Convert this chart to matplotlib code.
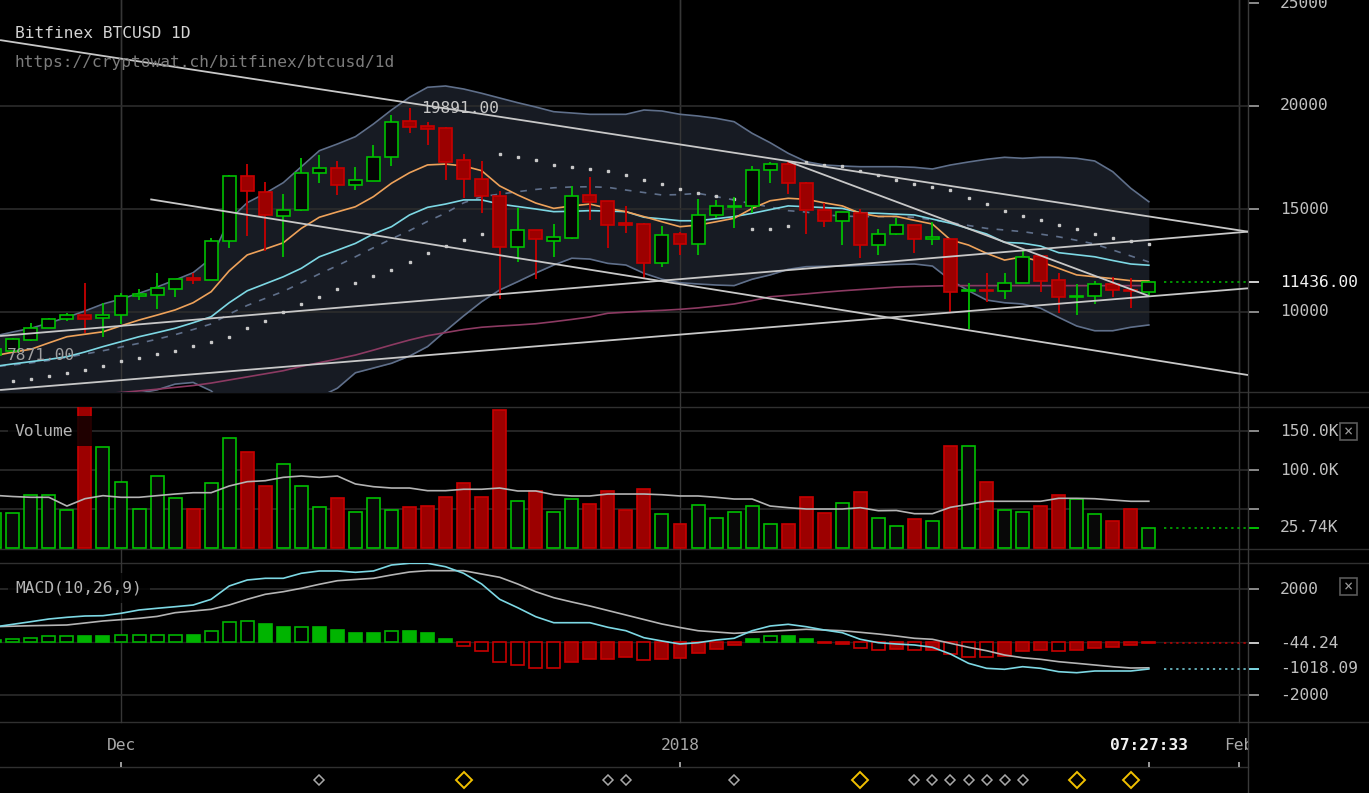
import matplotlib
matplotlib.use("Agg")
import matplotlib.pyplot as plt
import matplotlib.dates as mdates
import matplotlib.transforms as mtransforms
from matplotlib.lines import Line2D
from matplotlib.patches import Rectangle
import numpy as np
import pandas as pd

plt.rcParams["font.family"] = ["DejaVu Sans Mono", "DejaVu Sans"]

# ---- data (Bitfinex BTCUSD daily, Nov 24 2017 - Jan 27 2018) ----
dates = pd.date_range("2017-11-24", "2018-01-27", freq="D")

opens = [7900, 8110, 8640, 9220, 9675, 9840, 9690,
         9840, 10780, 10840, 11120, 11650, 11560, 13460, 16600, 15810, 14650,
         14930, 16730, 16980, 16150, 16370, 17540, 19250, 19030, 18950, 17360,
         16460, 15650, 13170, 13980, 13460, 13590, 15680, 15370, 14300, 14270, 12360,
         13770, 13300, 14710, 15100, 15150, 16890, 17180, 16250, 14930, 14420,
         14830, 13240, 13770, 14220, 13560, 13540, 11000, 11070, 11000, 11420,
         12700, 11540, 10710, 10760, 11360, 11070, 10970]
highs = [8250, 8740, 9470, 9720, 9935, 11420, 10450,
         10910, 11130, 11880, 11600, 11880, 13570, 16670, 17180, 16310, 15710,
         17460, 17620, 17320, 17030, 18110, 19580, 19891, 19220, 19000, 17670,
         17320, 15850, 15050, 13990, 14270, 16100, 16540, 15400, 15150, 14300, 14180,
         13900, 15490, 15440, 15600, 17090, 17260, 17280, 16310, 15310, 14850,
         14980, 14030, 14560, 14230, 14350, 13560, 11420, 11880, 11880, 12980,
         12720, 11880, 11340, 11490, 11680, 11650, 11490]
lows = [7871, 8050, 8600, 9200, 9580, 8980, 8790,
        9420, 10580, 10130, 10710, 11360, 11540, 13100, 13690, 12980, 12680,
        14900, 16240, 15660, 15900, 16350, 17070, 18670, 18090, 16410, 15520,
        14790, 10650, 12440, 11590, 12680, 13550, 14450, 13110, 13820, 11590, 12170,
        12770, 12770, 14560, 14070, 14830, 16250, 15730, 13790, 14140, 13250,
        12600, 12750, 13750, 12850, 13270, 9970, 9160, 10500, 10610, 11400,
        10980, 9970, 9840, 10400, 10740, 10180, 10780]
closes = [8200, 8690, 9220, 9660, 9840, 9675, 9840,
          10780, 10860, 11150, 11590, 11560, 13460, 16600, 15860, 14690, 14930,
          16730, 16990, 16150, 16390, 17540, 19220, 19000, 18900, 17300, 16460,
          15650, 13170, 13980, 13530, 13630, 15650, 15340, 14240, 14240, 12360, 13750,
          13300, 14710, 15150, 15150, 16890, 17180, 16250, 14930, 14420, 14850,
          13240, 13770, 14200, 13530, 13620, 10970, 11070, 11000, 11420, 12660,
          11510, 10710, 10780, 11360, 11070, 11000, 11436]

volume_k = [44.4, 44.4, 67.5, 67.5, 48.3, 200, 129,
            85, 50.4, 92.3, 63.7, 50.4, 82.9, 140.6, 123.5, 79.5, 108,
            79, 52, 63.7, 46, 63.7, 48.3, 52, 54.3, 65.8, 82.9,
            65.8, 177, 59.8, 73.5, 45.7, 63.2, 56, 73.5, 48.7, 75.2, 44,
            30.8, 55.5, 38.5, 45.7, 53.8, 30.8, 30.8, 65.8, 44.4, 57.7,
            71.4, 38.5, 28.6, 36.8, 34.6, 130.8, 130.8, 85, 48.3, 46,
            53.8, 67.5, 63.2, 44, 35, 50.4, 25.74]
volume_ma_k = [67.5, 66, 65, 65, 53.8, 63.2, 67.1,
               65, 65, 67.1, 69.2, 70.9, 70.9, 79.5, 85, 86.3, 90.6,
               92.3, 90.6, 92.3, 82.1, 78.6, 76.9, 76.9, 73.5, 73.5, 75.3,
               75.3, 76.9, 73.1, 73.1, 68.3, 66.7, 66.7, 69.2, 69.2, 69.2, 68.3,
               66.7, 66.7, 65, 62.8, 62.8, 53.8, 51.7, 50, 50, 50,
               51.7, 47.8, 48.1, 44, 44, 52.2, 56, 59.9, 59.9, 59.9,
               59.9, 63.7, 63.7, 63.2, 61.5, 59.9, 59.9]

bb_upper = [8835, 9029, 9209, 9466, 9743, 10049, 10388,
            10631, 10908, 11214, 11553, 11908, 12607, 14466, 15306, 15762, 16277,
            17053, 17830, 18155, 18510, 19126, 19806, 20422, 20908, 20971, 20825,
            20617, 20388, 20160, 19951, 19723, 19660, 19597, 19597, 19597, 19806, 19757,
            19597, 19515, 19403, 19238, 18675, 18219, 17704, 17296, 17136, 17087,
            17053, 17053, 17053, 17024, 16942, 17136, 17282, 17413, 17510, 17461,
            17510, 17510, 17461, 17330, 16811, 16005, 15354]
bb_middle = [7350, 7430, 7530, 7650, 7800, 7960, 8120,
             8300, 8480, 8680, 8900, 9150, 9420, 9900, 10320, 10660, 11000,
             11420, 11850, 12250, 12680, 13120, 13550, 13950, 14400, 14800, 15300,
             15600, 15720, 15840, 15950, 16030, 16070, 16080, 16050, 15920, 15800, 15680,
             15700, 15760, 15600, 15440, 15250, 15100, 14920, 14850, 14710, 14660,
             14630, 14630, 14630, 14600, 14470, 14340, 14200, 14060, 13980, 13900,
             13780, 13650, 13480, 13300, 13010, 12720, 12430]
bb_lower = [5850, 5830, 5850, 5830, 5860, 5870, 5900,
            5970, 6060, 6220, 6500, 6580, 6170, 5330, 5340, 5560, 5720,
            5790, 5870, 6300, 7050, 7280, 7510, 7860, 8320, 9080, 9810,
            10500, 11070, 11470, 11890, 12280, 12610, 12570, 12360, 12280, 11880, 11590,
            11420, 11360, 11310, 11280, 11590, 11800, 12070, 12200, 12220, 12230,
            12260, 12280, 12310, 12330, 12230, 11550, 11030, 10580, 10450, 10390,
            10180, 9740, 9320, 9090, 9090, 9260, 9370]
ema_fast = [7880, 8050, 8190, 8500, 8800, 8920, 9040,
            9330, 9610, 9850, 10100, 10450, 10985, 12000, 12770, 13060, 13360,
            14060, 14600, 14860, 15110, 15600, 16250, 16760, 17140, 17180, 17090,
            16860, 16120, 15680, 15290, 15030, 15150, 15240, 15030, 14870, 14630, 14380,
            14140, 14220, 14380, 14550, 15030, 15400, 15520, 15470, 15300, 15150,
            14790, 14640, 14640, 14450, 14270, 13500, 13250, 12850, 12520, 12680,
            12440, 12120, 11800, 11710, 11620, 11520, 11505]
ema_slow = [7360, 7480, 7590, 7700, 7830, 8060, 8320,
            8560, 8800, 9000, 9210, 9480, 9770, 10450, 11030, 11370, 11710,
            12120, 12680, 13000, 13330, 13790, 14140, 14710, 15080, 15240, 15440,
            15440, 15240, 15120, 15000, 14870, 14890, 14920, 14900, 14870, 14600, 14520,
            14430, 14430, 14530, 14630, 14790, 14970, 15150, 15110, 15070, 15030,
            14820, 14790, 14750, 14710, 14510, 14310, 14050, 13790, 13380, 13340,
            13200, 12880, 12780, 12680, 12500, 12330, 12270]
sma_long = [5600, 5680, 5760, 5840, 5920, 6000, 6040,
            6090, 6170, 6250, 6340, 6430, 6550, 6700, 6850, 7000, 7150,
            7360, 7540, 7720, 7910, 8150, 8400, 8640, 8850, 9000, 9150,
            9260, 9320, 9370, 9430, 9530, 9640, 9760, 9940, 9990, 10040, 10080,
            10130, 10200, 10290, 10390, 10550, 10740, 10810, 10880, 10960, 11030,
            11090, 11150, 11210, 11240, 11260, 11280, 11280, 11280, 11280, 11280,
            11280, 11280, 11280, 11280, 11280, 11280, 11280]
psar = [6580, 6665, 6748, 6893, 7024, 7184, 7393,
        7607, 7767, 7976, 8121, 8350, 8558, 8772, 9209, 9578, 10015,
        10374, 10743, 11102, 11393, 11748, 12039, 12413, 12850, 13219, 13495,
        13786, 17670, 17515, 17369, 17157, 17055, 16925, 16860, 16636, 16424, 16198,
        15987, 15760, 15631, 15485, 14014, 14014, 14175, 17262, 17136, 17072,
        16860, 16636, 16424, 16213, 16068, 15922, 15534, 15258, 14890, 14660,
        14451, 14223, 14014, 13786, 13576, 13431, 13286]

macd_line = [570, 668, 766, 868, 932, 981, 993,
             1083, 1208, 1272, 1332, 1396, 1611, 2113, 2340, 2404, 2404,
             2593, 2680, 2680, 2630, 2680, 2906, 2970, 2970, 2840, 2593,
             2189, 1611, 1294, 955, 728, 728, 728, 555, 426, 162, 38,
             -75, -26, 75, 140, 426, 604, 668, 577, 453, 351,
             102, -26, -75, -113, -200, -453, -804, -993, -1030, -932,
             -993, -1121, -1159, -1094, -1094, -1094, -1018]
macd_signal = [577, 596, 615, 628, 642, 717, 793,
               843, 894, 965, 1106, 1170, 1234, 1396, 1611, 1800, 1898,
               2027, 2178, 2313, 2359, 2404, 2529, 2642, 2691, 2691, 2691,
               2566, 2442, 2189, 1898, 1672, 1510, 1359, 1189, 1019, 849, 679,
               547, 426, 377, 328, 366, 404, 442, 479, 453, 426,
               366, 302, 226, 140, 102, -49, -200, -328, -491, -593,
               -653, -743, -804, -868, -932, -981, -974]
macd_hist = [60, 113, 163, 226, 226, 226, 226,
             276, 276, 276, 276, 276, 402, 755, 792, 692, 566,
             566, 566, 465, 352, 352, 402, 402, 352, 125, -140,
             -352, -753, -868, -981, -981, -753, -641, -641, -578, -692, -641,
             -590, -415, -252, -126, 113, 226, 226, 113, -38, -75,
             -239, -302, -252, -302, -290, -465, -578, -578, -528, -352,
             -302, -352, -290, -239, -189, -126, -44]
hist_hollow = [0, 1, 1, 1, 1, 0, 0,
               1, 1, 1, 1, 0, 1, 1, 1, 0, 0,
               1, 0, 0, 0, 0, 1, 0, 0, 0, 1,
               1, 1, 1, 1, 1, 0, 0, 0, 0, 1, 0,
               0, 0, 0, 0, 0, 1, 0, 0, 0, 0,
               1, 1, 0, 1, 0, 1, 1, 1, 0, 0,
               0, 1, 0, 0, 0, 0, 0]

# hand drawn trend lines: (start, price, end, price)
trend_lines = [
    ("2017-11-24 07:00", 23200, "2018-02-01 12:00", 13900),
    ("2017-12-02 15:00", 15470, "2018-02-01 12:00", 6940),
    ("2017-11-24 07:00", 8835, "2018-02-01 12:00", 13900),
    ("2017-11-24 07:00", 6214, "2018-02-01 12:00", 11150),
    ("2018-01-07 00:00", 17310, "2018-01-27 00:00", 10780),
]

events_small = ["2017-12-12", "2017-12-28", "2017-12-29", "2018-01-04", "2018-01-14",
                "2018-01-15", "2018-01-16", "2018-01-17", "2018-01-18", "2018-01-19",
                "2018-01-20"]
events_big = ["2017-12-20", "2018-01-11", "2018-01-23", "2018-01-26"]

x_ticks = ["2017-12-01", "2018-01-01", "2018-02-01"]
x_tick_labels = ["Dec", "2018", "Feb"]

high_label = 19891.00
low_label = 7871.00
last_time = "07:27:33"

# ---- styling ----
W, H = 1369, 793
BG = "#000000"
GRID = "#2c2c2c"
SEP = "#303030"
GREEN = "#00c000"
GREEN_H = "#00b400"
RED_EDGE = "#c80000"
RED_FILL = "#9c0000"
BAND = "#5f6f8a"
BAND_FILL = "#171b23"
ORANGE = "#eea25a"
CYAN = "#7dd8e4"
PURPLE = "#8c3a62"
TREND = "#c8c8c8"
LABEL = "#c0c0c0"
FS = 11.7

x = mdates.date2num(dates.to_pydatetime())
o, h, l, c = (np.array(v, dtype=float) for v in (opens, highs, lows, closes))
up = c >= o
day0 = mdates.date2num(pd.Timestamp("2017-12-01").to_pydatetime())
XLIM = (day0 - 121 / 18.032, day0 + (1248 - 121) / 18.032)

fig = plt.figure(figsize=(W / 100, H / 100), dpi=100, facecolor=BG)
px = mtransforms.Affine2D().scale(1.0 / W, -1.0 / H).translate(0, 1) + fig.transFigure


def add_panel(top, bottom, ylim):
    ax = fig.add_axes([0, 1 - bottom / H, 1248 / W, (bottom - top) / H])
    ax.set_facecolor("none")
    ax.set_axis_off()
    ax.set_xlim(*XLIM)
    ax.set_ylim(*ylim)
    return ax


ax_p = add_panel(0, 392, (10000 - 80 * 5000 / 103, 10000 + 312 * 5000 / 103))
ax_v = add_panel(407, 549, (-1.28, 180.77))
ax_m = add_panel(563, 722, (-80 * 2000 / 53, 79 * 2000 / 53))
ax_x = add_panel(722, 793, (793, 722))

# separators and frame
for yy in (392, 407, 549, 563, 722):
    fig.add_artist(Line2D([0, W], [yy, yy], transform=px, color=SEP, lw=1, zorder=-1))
fig.add_artist(Line2D([0, 1248], [767, 767], transform=px, color=SEP, lw=1, zorder=-1))
fig.add_artist(Line2D([1248, 1248], [0, H], transform=px, color="#3a3a3a", lw=1, zorder=-1))
vgrid_tr = mtransforms.blended_transform_factory(ax_p.transData, px)
for d in x_ticks:
    xd = mdates.date2num(pd.Timestamp(d).to_pydatetime())
    fig.add_artist(Line2D([xd, xd], [0, 722], transform=vgrid_tr, color="#363636", lw=1, zorder=-1))
    ax_p.axvline(xd, color="#363636", lw=1, zorder=1.5)

# ---- price panel ----
for v in (10000, 15000, 20000):
    ax_p.axhline(v, color=GRID, lw=1.2, zorder=1.5)
ax_p.fill_between(x, bb_lower, bb_upper, color=BAND_FILL, lw=0, zorder=1)
ax_p.plot(x, bb_upper, color=BAND, lw=1.2, zorder=2)
ax_p.plot(x, bb_lower, color=BAND, lw=1.2, zorder=2)
ax_p.plot(x, bb_middle, color=BAND, lw=1.2, ls=(0, (4, 5)), zorder=2)
ax_p.plot(x, sma_long, color=PURPLE, lw=1.2, zorder=2)
ax_p.plot(x, ema_slow, color=CYAN, lw=1.2, zorder=2)
ax_p.plot(x, ema_fast, color=ORANGE, lw=1.2, zorder=2)
ax_p.plot(x, psar, ls="none", marker="s", ms=2.0, color="#c8c8c8", zorder=2)

for mask, edge, face in ((up, GREEN, "#050505"), (~up, RED_EDGE, RED_FILL)):
    ax_p.vlines(x[mask], l[mask], h[mask], color=edge, lw=1.3, zorder=3)
    ax_p.bar(x[mask], np.abs(c - o)[mask], bottom=np.minimum(o, c)[mask], width=0.72,
             color=face, edgecolor=edge, linewidth=1.2, zorder=4)

for x0, y0, x1, y1 in trend_lines:
    xs = mdates.date2num([pd.Timestamp(x0).to_pydatetime(), pd.Timestamp(x1).to_pydatetime()])
    ax_p.plot(xs, [y0, y1], color=TREND, lw=1.3, zorder=5, solid_capstyle="butt")

i_hi = int(np.argmax(h))
ax_p.text(x[i_hi] + 0.65, high_label, f"{high_label:.2f}", color="#c8c8c8", fontsize=FS,
          ha="left", va="center", zorder=6)
i_lo = int(np.argmin(l))
ax_p.text(x[i_lo] + 0.65, low_label, f"{low_label:.2f}", color="#a0a0a0", fontsize=FS,
          ha="left", va="center", zorder=6)
ax_p.plot([x[-1] + 0.85, XLIM[1]], [closes[-1]] * 2, color=GREEN, lw=1.1, ls=(0, (1.5, 2.5)))

# ---- volume panel ----
for v in (50, 100, 150):
    ax_v.axhline(v, color=GRID, lw=1.2, zorder=0)
vol = np.array(volume_k)
ax_v.bar(x[up], vol[up], width=0.72, color="#080808", edgecolor=GREEN, linewidth=1.2, zorder=2)
ax_v.bar(x[~up], vol[~up], width=0.72, color=RED_FILL, edgecolor=RED_EDGE, linewidth=1.2, zorder=2)
ax_v.plot(x, volume_ma_k, color="#b4b4b4", lw=1.2, zorder=3)
ax_v.plot([x[-1] + 0.85, XLIM[1]], [volume_k[-1]] * 2, color=GREEN, lw=1.1, ls=(0, (1.5, 2.5)))

# ---- MACD panel ----
for v in (2000, -2000):
    ax_m.axhline(v, color=GRID, lw=1.2, zorder=0)
ax_m.axhline(0, color="#1e1e1e", lw=1, zorder=0)
hist = np.array(macd_hist, dtype=float)
hollow = np.array(hist_hollow, dtype=bool)
pos = hist >= 0
for mask, edge, face in ((pos & hollow, GREEN_H, "#000000"), (pos & ~hollow, GREEN_H, GREEN_H),
                         (~pos & hollow, RED_EDGE, "#000000"), (~pos & ~hollow, RED_EDGE, RED_FILL)):
    ax_m.bar(x[mask], hist[mask], width=0.72, color=face, edgecolor=edge, linewidth=1.2, zorder=2)
ax_m.plot(x, macd_signal, color="#b4b4b4", lw=1.2, zorder=3)
ax_m.plot(x, macd_line, color=CYAN, lw=1.2, zorder=3)
ax_m.plot([x[-1] + 0.85, XLIM[1]], [macd_hist[-1]] * 2, color=RED_EDGE, lw=1.1, ls=(0, (1.5, 2.5)))
ax_m.plot([x[-1] + 0.85, XLIM[1]], [macd_line[-1]] * 2, color=CYAN, lw=1.1, ls=(0, (1.5, 2.5)))


# ---- right axis labels ----
def right_label(ax, value, text, color=LABEL, tick="#8a8a8a", bold=False):
    tr = mtransforms.blended_transform_factory(fig.transFigure, ax.transData)
    fig.add_artist(Line2D([1250 / W, 1258 / W], [value, value], transform=tr, color=tick, lw=1.4))
    fig.text(1280 / W, value, text, transform=tr, color=color, fontsize=FS, ha="left", va="center",
             fontweight="bold" if bold else "normal")


for v in (25000, 20000, 15000, 10000):
    right_label(ax_p, v, f"{v}")
right_label(ax_p, closes[-1], f"{closes[-1]:.2f}", color="#f2f2f2", tick="#d0d0d0")
right_label(ax_v, 150, "150.0K")
right_label(ax_v, 100, "100.0K")
tr_v = mtransforms.blended_transform_factory(fig.transFigure, ax_v.transData)
fig.add_artist(Line2D([1250 / W, 1258 / W], [50, 50], transform=tr_v, color="#8a8a8a", lw=1.4))
right_label(ax_v, volume_k[-1], f"{volume_k[-1]:.2f}K", tick=GREEN)
right_label(ax_m, 2000, "2000")
right_label(ax_m, -2000, "-2000")
right_label(ax_m, macd_hist[-1], "-44.24", tick="#c8c8c8")
right_label(ax_m, macd_line[-1], "-1018.09", tick=CYAN)

# close boxes
for yy in (423, 578):
    fig.add_artist(Rectangle((1340, yy), 17, 17, transform=px, fill=False, edgecolor="#5a5a5a", lw=1.2))
    fig.text(1348.5, yy + 8.5, "\u00d7", transform=px, color="#9a9a9a", fontsize=11, ha="center", va="center")

# ---- x axis strip ----
for d, lab in zip(x_ticks, x_tick_labels):
    xd = mdates.date2num(pd.Timestamp(d).to_pydatetime())
    ax_x.text(xd, 745, lab, color="#a8a8a8", fontsize=FS, ha="center", va="center", clip_on=True)
    ax_x.vlines(xd, 762, 767, color="#a8a8a8", lw=1.3)
ax_x.text(x[-1], 745, last_time, color="#f2f2f2", fontsize=FS, fontweight="bold", ha="center", va="center")
ax_x.vlines(x[-1], 762, 767, color="#a8a8a8", lw=1.3)
ev_s = mdates.date2num([pd.Timestamp(d).to_pydatetime() for d in events_small])
ev_b = mdates.date2num([pd.Timestamp(d).to_pydatetime() for d in events_big])
ax_x.plot(ev_s, [780] * len(ev_s), ls="none", marker="D", ms=4.6, mfc="none", mec="#a8a8a8", mew=1.1)
ax_x.plot(ev_b, [780] * len(ev_b), ls="none", marker="D", ms=8.2, mfc="none", mec="#f0c000", mew=1.4)

# ---- titles and panel names ----
fig.text(15, 33, "Bitfinex BTCUSD 1D", transform=px, color="#d4d4d4", fontsize=FS, ha="left", va="center")
fig.text(15, 62, "https://cryptowat.ch/bitfinex/btcusd/1d", transform=px, color="#7c7c7c",
         fontsize=FS, ha="left", va="center")
fig.add_artist(Rectangle((8, 416), 84, 30, transform=px, facecolor="#000000", alpha=0.8, lw=0, zorder=3))
fig.text(15, 431, "Volume", transform=px, color="#b4b4b4", fontsize=FS, ha="left", va="center", zorder=4)
fig.add_artist(Rectangle((8, 573), 142, 30, transform=px, facecolor="#000000", alpha=0.8, lw=0, zorder=3))
fig.text(15, 588, "MACD(10,26,9)", transform=px, color="#b4b4b4", fontsize=FS, ha="left", va="center", zorder=4)

fig.savefig("out.png", dpi=100, facecolor=BG)
